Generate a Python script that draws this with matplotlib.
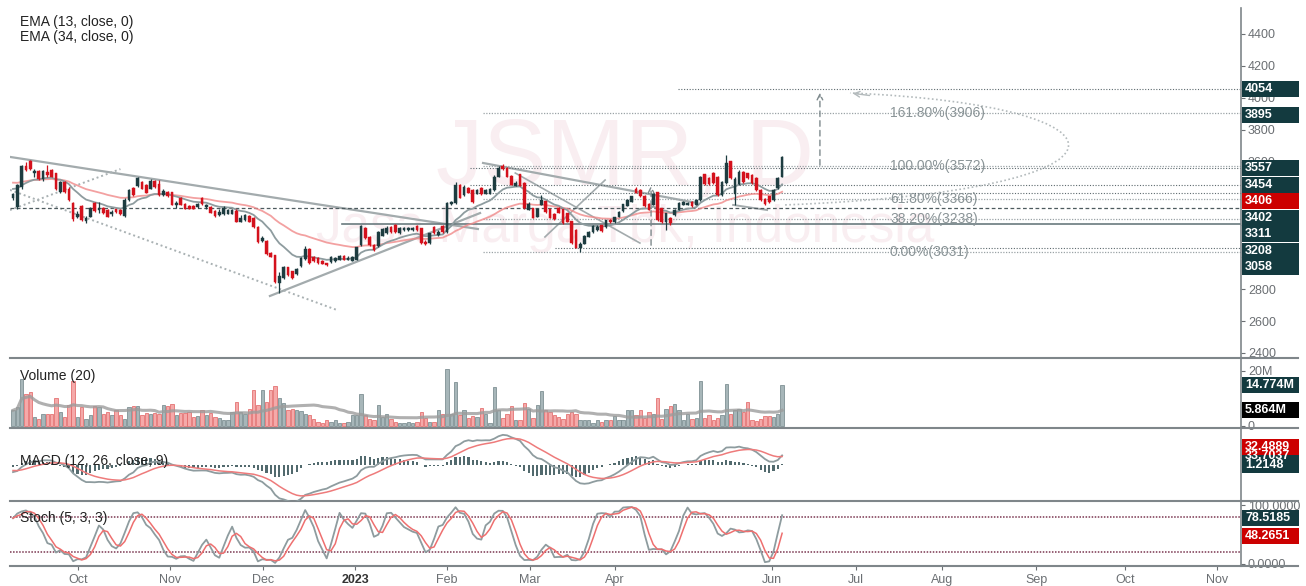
import numpy as np
import pandas as pd
import matplotlib
matplotlib.use("Agg")
import matplotlib.pyplot as plt
from matplotlib.patches import Rectangle, PathPatch
from matplotlib.lines import Line2D
from matplotlib.path import Path

plt.rcParams["font.family"] = ["Liberation Sans", "DejaVu Sans"]

# ---------------- data ----------------
opens = [3370,3315,3440,3572,3603,3530,3540,3490,3535,3545,
         3525,3410,3470,3430,3340,3255,3320,3228,3255,3340,
         3295,3310,3295,3270,3300,3295,3260,3360,3435,3445,
         3470,3455,3430,3480,3460,3390,3410,3405,3330,3370,
         3335,3320,3320,3318,3370,3318,3315,3290,3265,3270,
         3275,3275,3290,3225,3235,3260,3245,3190,3105,3100,
         3025,3010,2840,2870,2935,2910,2895,2945,2990,3050,
         3000,2995,2975,2960,2970,2975,2985,3005,2985,2980,
         2985,3075,3185,3125,3075,3070,3135,3150,3190,3200,
         3150,3170,3170,3170,3196,3180,3095,3090,3190,3140,
         3195,3160,3335,3340,3455,3390,3435,3420,3400,3435,
         3400,3400,3420,3505,3570,3560,3510,3450,3520,3465,
         3300,3305,3255,3330,3350,3300,3270,3310,3300,3275,
         3225,3170,3060,3085,3130,3160,3170,3200,3190,3235,
         3220,3255,3290,3325,3350,3430,3420,3385,3335,3330,
         3405,3305,3220,3245,3265,3300,3330,3330,3345,3330,
         3360,3520,3495,3530,3505,3390,3465,3600,3400,3460,
         3535,3525,3515,3495,3420,3365,3380,3360,3435,3505]
closes = [3395,3450,3570,3550,3553,3540,3490,3540,3515,3505,
          3430,3470,3410,3360,3240,3270,3235,3245,3305,3290,
          3305,3278,3255,3285,3285,3270,3360,3420,3390,3495,
          3430,3405,3480,3440,3390,3415,3385,3330,3342,3330,
          3305,3305,3305,3334,3334,3325,3280,3262,3280,3305,
          3295,3298,3225,3245,3265,3225,3190,3095,3120,3020,
          3005,2845,2880,2935,2890,2870,2925,2995,3050,2965,
          2978,2965,2960,2950,3000,2995,3005,2985,2995,3000,
          3060,3195,3120,3075,3045,3160,3175,3185,3160,3160,
          3185,3180,3180,3182,3171,3090,3085,3150,3150,3160,
          3160,3340,3345,3455,3375,3440,3405,3345,3420,3395,
          3420,3425,3505,3560,3555,3505,3455,3465,3450,3310,
          3330,3250,3300,3360,3285,3250,3240,3280,3215,3225,
          3090,3060,3085,3135,3160,3195,3190,3165,3230,3220,
          3250,3285,3330,3360,3380,3405,3385,3320,3300,3395,
          3235,3220,3275,3215,3295,3340,3345,3340,3320,3360,
          3505,3460,3460,3465,3390,3470,3590,3495,3490,3535,
          3470,3495,3465,3420,3360,3335,3345,3420,3495,3630]
highs = [3405,3460,3580,3600,3610,3555,3550,3550,3580,3555,
         3530,3480,3475,3440,3345,3290,3325,3260,3315,3345,
         3345,3315,3300,3295,3305,3300,3370,3430,3440,3505,
         3480,3460,3490,3485,3485,3425,3415,3410,3350,3375,
         3340,3325,3325,3340,3375,3335,3320,3295,3300,3320,
         3305,3305,3300,3265,3270,3265,3250,3195,3130,3105,
         3030,3015,2905,2945,2940,2915,2930,3000,3070,3055,
         3005,3000,2980,2965,3005,3000,3015,3015,3005,3005,
         3065,3200,3190,3130,3080,3165,3185,3195,3195,3210,
         3190,3190,3190,3190,3200,3185,3110,3155,3195,3170,
         3200,3345,3355,3470,3460,3450,3440,3425,3430,3440,
         3430,3435,3515,3570,3585,3565,3515,3475,3525,3470,
         3345,3310,3310,3390,3355,3305,3275,3315,3305,3280,
         3230,3175,3095,3140,3165,3200,3200,3205,3235,3240,
         3255,3290,3335,3365,3385,3440,3425,3390,3340,3405,
         3410,3310,3280,3250,3300,3345,3350,3345,3350,3365,
         3510,3525,3500,3535,3510,3475,3640,3605,3500,3545,
         3540,3530,3520,3500,3425,3370,3385,3425,3500,3635]
lows = [3360,3305,3430,3540,3545,3505,3485,3480,3505,3500,
        3420,3400,3400,3350,3230,3245,3225,3215,3250,3285,
        3280,3270,3250,3260,3280,3265,3255,3355,3385,3440,
        3425,3400,3425,3435,3385,3385,3380,3325,3310,3325,
        3300,3300,3300,3310,3330,3305,3275,3255,3260,3265,
        3270,3270,3220,3220,3230,3220,3185,3090,3095,3015,
        3000,2840,2775,2865,2885,2865,2890,2940,2985,2960,
        2970,2960,2955,2945,2965,2970,2980,2980,2980,2975,
        2980,3070,3115,3070,3040,3065,3130,3145,3155,3155,
        3145,3165,3165,3165,3165,3085,3075,3085,3145,3135,
        3155,3155,3325,3335,3370,3385,3400,3340,3395,3390,
        3395,3395,3415,3500,3550,3500,3450,3445,3445,3305,
        3295,3245,3250,3325,3280,3245,3235,3275,3210,3220,
        3085,3055,3030,3080,3125,3155,3165,3160,3185,3215,
        3215,3250,3285,3320,3345,3400,3380,3315,3295,3325,
        3230,3215,3170,3205,3260,3295,3325,3325,3315,3325,
        3355,3455,3455,3460,3385,3385,3460,3490,3330,3455,
        3465,3490,3460,3415,3355,3330,3340,3355,3430,3500]
volumes_m = [5.7,6.9,17.2,11.7,12.3,3.3,2.7,4.5,4.5,4.5,
             10.3,5.0,3.3,7.5,16.3,3.3,6.9,2.7,3.9,7.2,
             6.9,4.5,5.0,3.9,5.7,3.9,2.7,6.9,7.2,7.2,
             3.9,4.7,4.5,4.7,4.5,7.7,7.2,8.1,3.9,4.7,
             4.7,5.0,3.3,3.5,5.7,3.9,4.7,3.3,3.0,2.1,
             2.0,5.0,8.7,5.0,4.5,6.2,13.2,7.5,13.2,8.8,
             13.0,14.4,10.0,8.3,5.7,6.2,5.9,5.3,4.5,3.9,
             2.7,1.5,1.0,2.1,1.5,2.0,1.0,1.2,1.5,4.0,
             3.9,11.5,3.9,2.7,2.3,7.5,3.3,4.5,2.7,1.5,
             1.0,1.2,1.5,1.0,1.5,5.2,3.0,1.5,1.5,5.9,
             4.5,20.8,4.5,16.0,3.9,5.9,3.0,3.5,3.3,6.7,
             4.5,1.0,14.2,5.9,3.0,4.2,7.2,2.3,2.1,8.2,
             6.3,3.0,7.5,12.7,5.7,5.0,3.9,3.3,2.7,4.5,
             5.0,4.2,2.3,2.1,2.3,1.1,2.3,1.5,2.3,2.3,
             3.5,2.3,2.3,5.9,5.7,3.9,5.7,3.0,5.0,4.5,
             10.0,2.7,6.0,7.2,8.1,5.7,2.3,4.5,2.7,3.0,
             16.3,3.0,3.9,2.3,3.0,3.9,15.1,4.5,5.7,6.3,
             5.0,8.8,2.1,1.8,2.7,3.5,3.5,3.3,4.5,14.8]

month_labels = ["Oct", "Nov", "Dec", "2023", "Feb", "Mar", "Apr", "Jun",
                "Jul", "Aug", "Sep", "Oct", "Nov"]
month_pos = [15.1, 36.5, 58.2, 79.6, 101.0, 120.3, 140.1, 176.7,
             196.2, 216.2, 238.1, 258.8, 280.3]

# indicator seeds (values of the indicators at the left edge)
ema13_seed, ema34_seed = 3434, 3472
ema12_seed, ema26_seed, signal_seed = 3430, 3450, -15

# right-hand price labels
price_labels = [4054, 3895, 3557, 3454, 3406, 3402, 3311, 3208, 3058]
price_label_red = [False, False, False, False, True, False, False, False, False]

fib_levels = [3031, 3238, 3366, 3572, 3906]
fib_texts = ["0.00%(3031)", "38.20%(3238)", "61.80%(3366)", "100.00%(3572)", "161.80%(3906)"]

# ---------------- figure ----------------
W, H = 1306, 586
fig = plt.figure(figsize=(W / 100, H / 100), dpi=100)
fig.patch.set_facecolor("white")

def px_axes(x0, y0, x1, y1):
    return fig.add_axes([x0 / W, 1 - y1 / H, (x1 - x0) / W, (y1 - y0) / H])

ax = px_axes(10, 8, 1241, 358)
axv = px_axes(10, 358, 1241, 428)
axm = px_axes(10, 428, 1241, 501)
axs = px_axes(10, 501, 1241, 566)

XMIN, XMAX = -0.7, 285.8
UP = "#1d3c40"
DOWN = "#d4111c"
AXCOL = "#7f868a"

n = len(closes)
x = np.arange(n)
o = np.array(opens, float); c = np.array(closes, float)
h = np.array(highs, float); l = np.array(lows, float)
up = c >= o

for a in (ax, axv, axm, axs):
    a.set_xlim(XMIN, XMAX)
    for s in ("left", "top"):
        a.spines[s].set_visible(False)
    a.spines["right"].set_color(AXCOL)
    a.spines["right"].set_linewidth(1.2)
    a.spines["bottom"].set_color(AXCOL)
    a.spines["bottom"].set_linewidth(1.5)
    a.yaxis.tick_right()
    a.tick_params(axis="y", colors="#6b6f73", labelsize=9, length=3, width=0.8, pad=2)
    a.tick_params(axis="x", bottom=False, labelbottom=False)
    a.set_facecolor("none")

# ---------------- main price panel ----------------
ax.set_ylim(2368, 4563)
ax.set_yticks(np.arange(2400, 4401, 200))

# watermark
ax.text(0.50, 0.565, "JSMR, D", transform=ax.transAxes, fontsize=68,
        color="#f9eef1", ha="center", va="center", zorder=0)
ax.text(0.50, 0.37, "Jasa Marga Tbk, Indonesia", transform=ax.transAxes, fontsize=37,
        color="#f9eef1", ha="center", va="center", zorder=0)

# EMAs
def ema(vals, span, seed):
    alpha = 2.0 / (span + 1)
    out, e = [], seed
    for v in vals:
        e = e + alpha * (v - e)
        out.append(e)
    return np.array(out)

e13 = ema(c, 13, ema13_seed)
e34 = ema(c, 34, ema34_seed)
ax.plot(x, e34, color="#f08a8a", lw=1.3, alpha=0.8, zorder=3)
ax.plot(x, e13, color="#8e9c9f", lw=1.3, zorder=3)

# candles
ax.vlines(x, l, h, colors=np.where(up, UP, DOWN), lw=0.9, zorder=4)
ax.bar(x, np.abs(c - o) + 2, bottom=np.minimum(o, c) - 1, width=0.62,
       color=np.where(up, UP, DOWN), edgecolor=np.where(up, UP, DOWN), lw=0.3, zorder=5)

# drawings (bar index, price)
dr = dict(color="#a3abad", lw=1.6, zorder=2)
ax.plot([-0.7, 108.2], [3629, 3177], **dr)            # long falling trendline
ax.plot([59.8, 108.7], [2757, 3277], **dr)            # rising trendline from Dec low
ax.plot([109.4, 159.2], [3591, 3340], **dr)           # Feb-Apr falling line
ax.plot([167.6, 175.5], [3328, 3296], color="#a3abad", lw=1.4, zorder=2)
ax.plot([116.9, 145.9], [3528, 3089], color="#a3abad", lw=1.2, zorder=2)
ax.plot([123.8, 137.8], [3127, 3484], color="#a3abad", lw=1.2, zorder=2)
dot = dict(color="#a9b1b3", lw=1.4, ls=(0, (1, 1.5)), zorder=2)
ax.plot([-0.7, 75.4], [3422, 2669], **dot)            # lower channel
ax.plot([-0.7, 25.0], [3296, 3553], **dot)

# horizontal levels
ax.plot([-0.7, XMAX], [3311, 3311], color="#4d5a5e", lw=0.9, ls=(0, (3, 2)), zorder=2)
ax.plot([76.5, XMAX], [3208, 3208], color="#6a7a7e", lw=1.2, zorder=2)
ax.plot([154.8, XMAX], [4054, 4054], color="#5d6a6e", lw=0.8, ls=(0, (1, 1.5)), zorder=2)
ax.plot([126.2, XMAX], [3058, 3058], color="#5d6a6e", lw=0.8, ls=(0, (1, 1.5)), zorder=2)
for lv in (3557, 3454, 3402):
    ax.plot([106.4, XMAX], [lv, lv], color="#5d6a6e", lw=0.8, ls=(0, (1, 1.5)), zorder=2)
for lv, tx in zip(fib_levels, fib_texts):
    ax.plot([109.4, XMAX], [lv, lv], color="#9aa3a6", lw=0.9, ls=(0, (1, 1.2)), zorder=2)
    ax.text(204.1, lv, tx, fontsize=10, color="#8a9497", va="center", ha="left", zorder=6)

# vertical dashed arrows
for xb, p0, p1 in [(148.5, 3058, 3466), (187.8, 3560, 4049)]:
    ax.annotate("", xy=(xb, p1), xytext=(xb, p0),
                arrowprops=dict(arrowstyle="->", color="#7d898c", lw=1.0, ls=(0, (4, 3)),
                                mutation_scale=10), zorder=3)

# curved dotted arrow
verts = [(179.7, 3328), (266.0, 3420), (264.0, 3950), (194.8, 4030)]
pp = PathPatch(Path(verts, [Path.MOVETO, Path.CURVE4, Path.CURVE4, Path.CURVE4]),
               fc="none", ec="#b3babc", lw=1.2, ls=(0, (1, 1.5)), zorder=2)
ax.add_patch(pp)
ax.annotate("", xy=(194.8, 4030), xytext=(200.0, 4012),
            arrowprops=dict(arrowstyle="->", color="#b3babc", lw=1.0), zorder=2)

fig.text(20 / W, 1 - 22 / H, "EMA (13, close, 0)", fontsize=10, color="#222", va="center")
fig.text(20 / W, 1 - 37 / H, "EMA (34, close, 0)", fontsize=10, color="#222", va="center")

# ---------------- volume ----------------
vol = np.array(volumes_m)
axv.set_ylim(-0.73, 24.7)
axv.set_yticks([0, 20])
axv.set_yticklabels(["0", "20M"])
axv.bar(x, vol, width=0.78, color=np.where(up, "#a7b6b9", "#f5a9a9"),
        edgecolor=np.where(up, "#6e8185", "#e06060"), lw=0.5, zorder=2)
vma = pd.Series(vol).rolling(20, min_periods=1).mean()
axv.plot(x, vma, color="#9c9c9c", lw=2.2, alpha=0.8, zorder=3)
axv.text(10 / 1231, 0.74, "Volume (20)", transform=axv.transAxes,
         fontsize=10, color="#222", va="center", zorder=6)

# ---------------- MACD ----------------
e12 = ema(c, 12, ema12_seed)
e26 = ema(c, 26, ema26_seed)
macd = e12 - e26
sig = ema(macd, 9, signal_seed)
hist = macd - sig
axm.set_ylim(-114, 120)
axm.set_yticks([])
axm.bar(x, hist, width=0.5, color="#526a6e", zorder=2)
axm.plot(x, macd, color="#8e9c9f", lw=1.3, zorder=3)
axm.plot(x, sig, color="#ee7b7b", lw=1.1, zorder=3)
axm.text(10 / 1231, 0.55, "MACD (12, 26, close, 9)", transform=axm.transAxes,
         fontsize=10, color="#222", va="center", zorder=6)

# ---------------- Stoch ----------------
cs = pd.Series(c); hs = pd.Series(h); ls_ = pd.Series(l)
hh = hs.rolling(5, min_periods=1).max(); ll = ls_.rolling(5, min_periods=1).min()
raw = 100 * (cs - ll) / (hh - ll)
k = raw.rolling(3, min_periods=1).mean()
d = k.rolling(3, min_periods=1).mean()
axs.set_ylim(-3.5, 107)
axs.set_yticks([0, 100])
axs.set_yticklabels(["0.0000", "100.0000"])
axs.axhline(80, color="#7a3650", lw=1.1, ls=(0, (1, 1)), zorder=1)
axs.axhline(20, color="#7a3650", lw=1.1, ls=(0, (1, 1)), zorder=1)
axs.plot(x, k, color="#8e9c9f", lw=1.3, zorder=3)
axs.plot(x, d, color="#ee6f6f", lw=1.1, zorder=3)
axs.text(10 / 1231, 0.74, "Stoch (5, 3, 3)", transform=axs.transAxes,
         fontsize=10, color="#222", va="center", zorder=6)

# x axis labels
axs.set_xticks(month_pos)
axs.set_xticklabels(month_labels)
axs.tick_params(axis="x", bottom=True, labelbottom=True, labelsize=9,
                colors="#6b6f73", length=3, pad=3)
for t in axs.get_xticklabels():
    if t.get_text() == "2023":
        t.set_fontweight("bold")
        t.set_color("#333")

# separators across the price scale
for yy in (358, 428, 501, 566):
    fig.add_artist(Line2D([1241 / W, 1298 / W], [1 - yy / H, 1 - yy / H],
                          color=AXCOL, lw=1.5))

# ---------------- right labels ----------------
fig.canvas.draw()

def ypx(axis, val):
    return H - axis.transData.transform((0, val))[1]

def label_box(y, text, fc, tc="white"):
    hgt = 16
    fig.add_artist(Rectangle((1242 / W, 1 - (y + hgt / 2) / H), 57 / W, hgt / H,
                             transform=fig.transFigure, fc=fc, ec="none", zorder=5))
    fig.text(1245 / W, 1 - y / H, text, fontsize=9, color=tc, fontweight="bold",
             va="center", ha="left", zorder=6)

prev = -1e9
for val, red in zip(price_labels, price_label_red):
    y = max(ypx(ax, val), prev + 16.5)
    prev = y
    label_box(y, str(val), "#cc0000" if red else "#133a3f")

label_box(ypx(axv, 14.774), "14.774M", "#133a3f")
label_box(ypx(axv, 5.864), "5.864M", "#000000")

label_box(456, "33.7037", "#133a3f")
label_box(447, "32.4889", "#cc0000")
label_box(465, "1.2148", "#133a3f")

label_box(ypx(axs, 78.5185), "78.5185", "#133a3f")
label_box(ypx(axs, 48.2651), "48.2651", "#cc0000")

fig.savefig("out.png", dpi=100, facecolor="white")
